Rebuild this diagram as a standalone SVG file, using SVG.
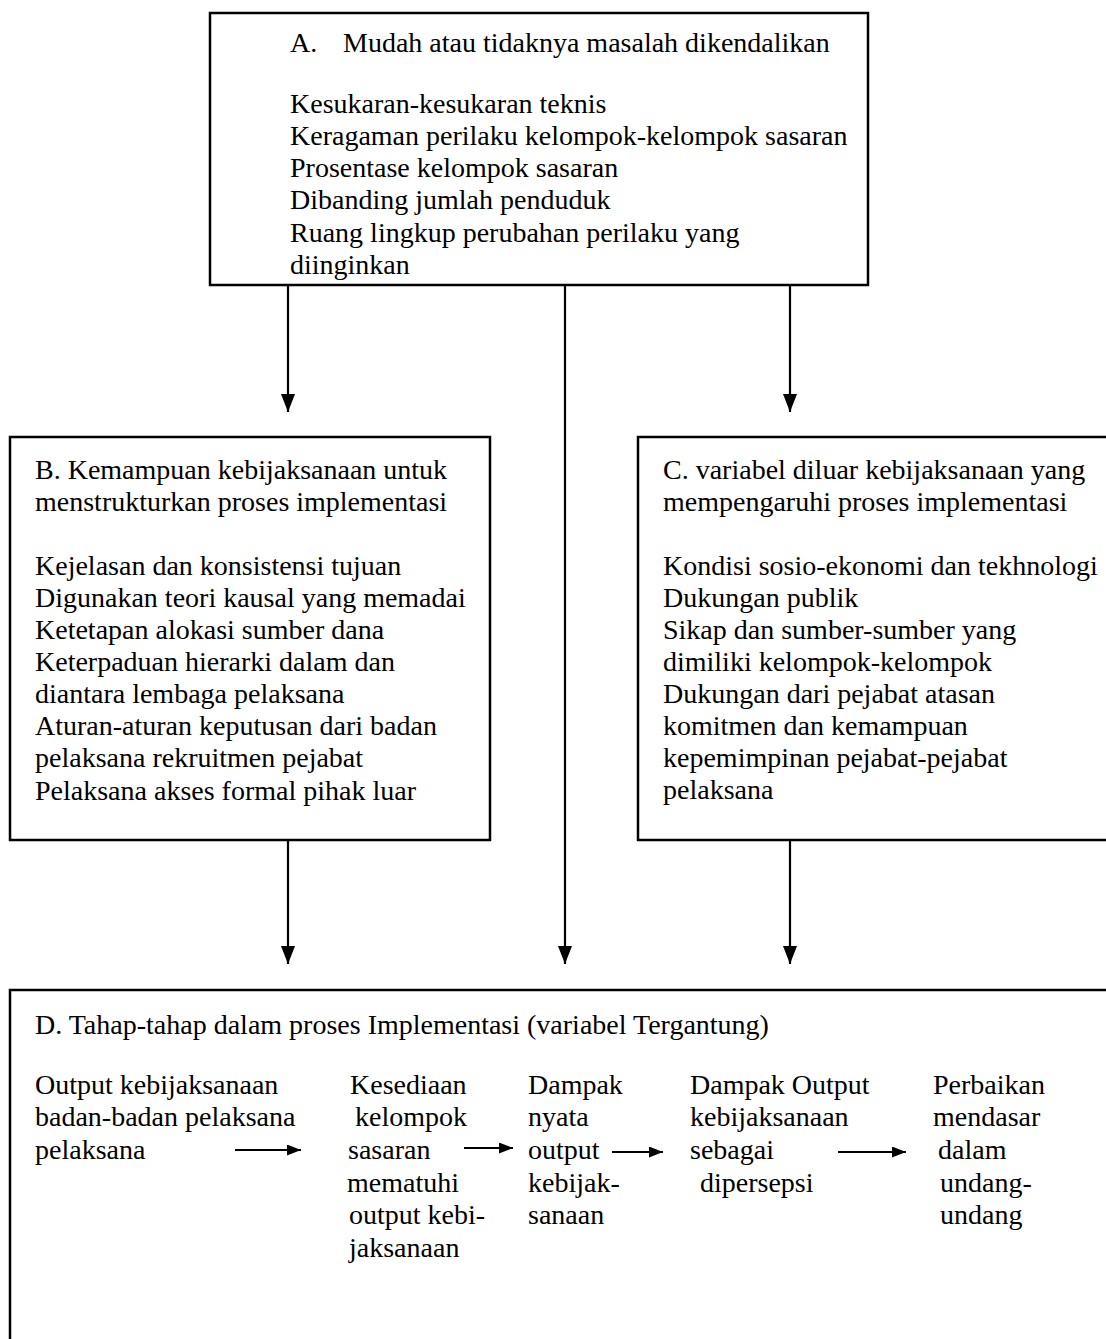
<svg xmlns="http://www.w3.org/2000/svg" width="1106" height="1339" viewBox="0 0 1106 1339">
<style>
.box{fill:#fff;stroke:#000;stroke-width:2.5}
.t{font-family:"Liberation Serif","Times New Roman",serif;font-size:28px;fill:#000}
.ln{stroke:#000;stroke-width:2.2;fill:none}
</style>
<defs>
<marker id="ah" viewBox="0 0 18 14" refX="18" refY="7" markerWidth="18" markerHeight="14" orient="auto" markerUnits="userSpaceOnUse"><path d="M0,0 L18,7 L0,14 z" fill="#000"/></marker>
<marker id="ahs" viewBox="0 0 14 11" refX="14" refY="5.5" markerWidth="14" markerHeight="11" orient="auto" markerUnits="userSpaceOnUse"><path d="M0,0 L14,5.5 L0,11 z" fill="#000"/></marker>
</defs>
<rect width="1106" height="1339" fill="#fff"/>
<g id="connectors">
<line class="ln" x1="288" y1="285" x2="288" y2="412" marker-end="url(#ah)"/>
<line class="ln" x1="565" y1="285" x2="565" y2="964" marker-end="url(#ah)"/>
<line class="ln" x1="790" y1="285" x2="790" y2="412" marker-end="url(#ah)"/>
<line class="ln" x1="288" y1="840" x2="288" y2="964" marker-end="url(#ah)"/>
<line class="ln" x1="790" y1="840" x2="790" y2="964" marker-end="url(#ah)"/>
</g>
<g id="nodeA">
<rect class="box" x="210" y="13" width="658" height="272"/>
<text class="t" x="290" y="52">A.</text>
<text class="t" x="343" y="52">Mudah atau tidaknya masalah dikendalikan</text>
<text class="t" x="290" y="113">Kesukaran-kesukaran teknis</text>
<text class="t" x="290" y="145">Keragaman perilaku kelompok-kelompok sasaran</text>
<text class="t" x="290" y="177">Prosentase kelompok sasaran</text>
<text class="t" x="290" y="209">Dibanding jumlah penduduk</text>
<text class="t" x="290" y="242">Ruang lingkup perubahan perilaku yang</text>
<text class="t" x="290" y="274">diinginkan</text>
</g>
<g id="nodeB">
<rect class="box" x="10" y="437" width="480" height="403"/>
<text class="t" x="35" y="479">B. Kemampuan kebijaksanaan untuk</text>
<text class="t" x="35" y="511">menstrukturkan proses implementasi</text>
<text class="t" x="35" y="575">Kejelasan dan konsistensi tujuan</text>
<text class="t" x="35" y="607">Digunakan teori kausal yang memadai</text>
<text class="t" x="35" y="639">Ketetapan alokasi sumber dana</text>
<text class="t" x="35" y="671">Keterpaduan hierarki dalam dan</text>
<text class="t" x="35" y="703">diantara lembaga pelaksana</text>
<text class="t" x="35" y="735">Aturan-aturan keputusan dari badan</text>
<text class="t" x="35" y="767">pelaksana rekruitmen pejabat</text>
<text class="t" x="35" y="800">Pelaksana akses formal pihak luar</text>
</g>
<g id="nodeC">
<rect class="box" x="638" y="437" width="480" height="403"/>
<text class="t" x="663" y="479">C. variabel diluar kebijaksanaan yang</text>
<text class="t" x="663" y="511">mempengaruhi proses implementasi</text>
<text class="t" x="663" y="575">Kondisi sosio-ekonomi dan tekhnologi</text>
<text class="t" x="663" y="607">Dukungan publik</text>
<text class="t" x="663" y="639">Sikap dan sumber-sumber yang</text>
<text class="t" x="663" y="671">dimiliki kelompok-kelompok</text>
<text class="t" x="663" y="703">Dukungan dari pejabat atasan</text>
<text class="t" x="663" y="735">komitmen dan kemampuan</text>
<text class="t" x="663" y="767">kepemimpinan pejabat-pejabat</text>
<text class="t" x="663" y="799">pelaksana</text>
</g>
<g id="nodeD">
<rect class="box" x="10" y="990" width="1110" height="400"/>
<text class="t" x="35" y="1034">D. Tahap-tahap dalam proses Implementasi (variabel Tergantung)</text>
<text class="t" x="35" y="1094">Output kebijaksanaan</text>
<text class="t" x="35" y="1126">badan-badan pelaksana</text>
<text class="t" x="35" y="1159">pelaksana</text>
<text class="t" x="350" y="1094">Kesediaan</text>
<text class="t" x="355" y="1126">kelompok</text>
<text class="t" x="348" y="1159">sasaran</text>
<text class="t" x="347" y="1192">mematuhi</text>
<text class="t" x="349" y="1224">output kebi-</text>
<text class="t" x="349" y="1257">jaksanaan</text>
<text class="t" x="528" y="1094">Dampak</text>
<text class="t" x="528" y="1126">nyata</text>
<text class="t" x="528" y="1159">output</text>
<text class="t" x="528" y="1192">kebijak-</text>
<text class="t" x="528" y="1224">sanaan</text>
<text class="t" x="690" y="1094">Dampak Output</text>
<text class="t" x="690" y="1126">kebijaksanaan</text>
<text class="t" x="690" y="1159">sebagai</text>
<text class="t" x="700" y="1192">dipersepsi</text>
<text class="t" x="933" y="1094">Perbaikan</text>
<text class="t" x="933" y="1126">mendasar</text>
<text class="t" x="938" y="1159">dalam</text>
<text class="t" x="940" y="1192">undang-</text>
<text class="t" x="940" y="1224">undang</text>
<g id="stage-arrows">
<line class="ln" x1="235" y1="1150" x2="301" y2="1150" marker-end="url(#ahs)"/>
<line class="ln" x1="464" y1="1148" x2="513" y2="1148" marker-end="url(#ahs)"/>
<line class="ln" x1="612" y1="1152" x2="663" y2="1152" marker-end="url(#ahs)"/>
<line class="ln" x1="838" y1="1152" x2="906" y2="1152" marker-end="url(#ahs)"/>
</g>
</g>
</svg>
